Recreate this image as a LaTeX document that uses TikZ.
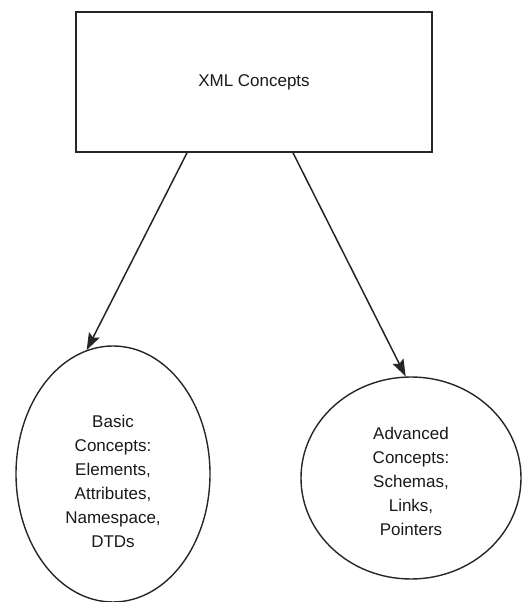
\documentclass[tikz,border=0pt]{standalone}
\usepackage{fontspec}
\setmainfont{Liberation Sans}
\usetikzlibrary{shapes.geometric,arrows.meta,calc}
\newcommand{\ovaltext}[2]{\raisebox{#1}[0pt][0pt]{\begin{tabular}{@{}c@{}}#2\end{tabular}}}
\begin{document}
\begin{tikzpicture}[x=1pt,y=1pt,
  box/.style={draw=black!85,line width=1.7pt,minimum width=356pt,minimum height=140pt,inner sep=0pt},
  oval/.style={draw=black!85,ellipse,line width=1.4pt,inner sep=0pt,
     font=\fontsize{17}{24}\selectfont,text=black!90},
  conn/.style={line width=1.5pt,draw=black!85,-{Stealth[length=17pt,width=12pt,inset=3pt]}}]
\useasboundingbox (0,0) rectangle (523,602);
\node[box,font=\fontsize{17}{20}\selectfont,text=black!90] (xml) at (254,520) {XML Concepts};
\node[oval,minimum width=194pt,minimum height=256pt] (basic) at (113,128)
  {\ovaltext{-13pt}{Basic\\Concepts:\\Elements,\\Attributes,\\Namespace,\\DTDs}};
\node[oval,minimum width=220pt,minimum height=202pt] (adv) at (411,124)
  {\ovaltext{-9pt}{Advanced\\Concepts:\\Schemas,\\Links,\\Pointers}};
\draw[conn] ($(xml.south)+(-67,0)$) -- (basic.102);
\draw[conn] ($(xml.south)+(39,0)$) -- (adv.93);
\end{tikzpicture}
\end{document}
